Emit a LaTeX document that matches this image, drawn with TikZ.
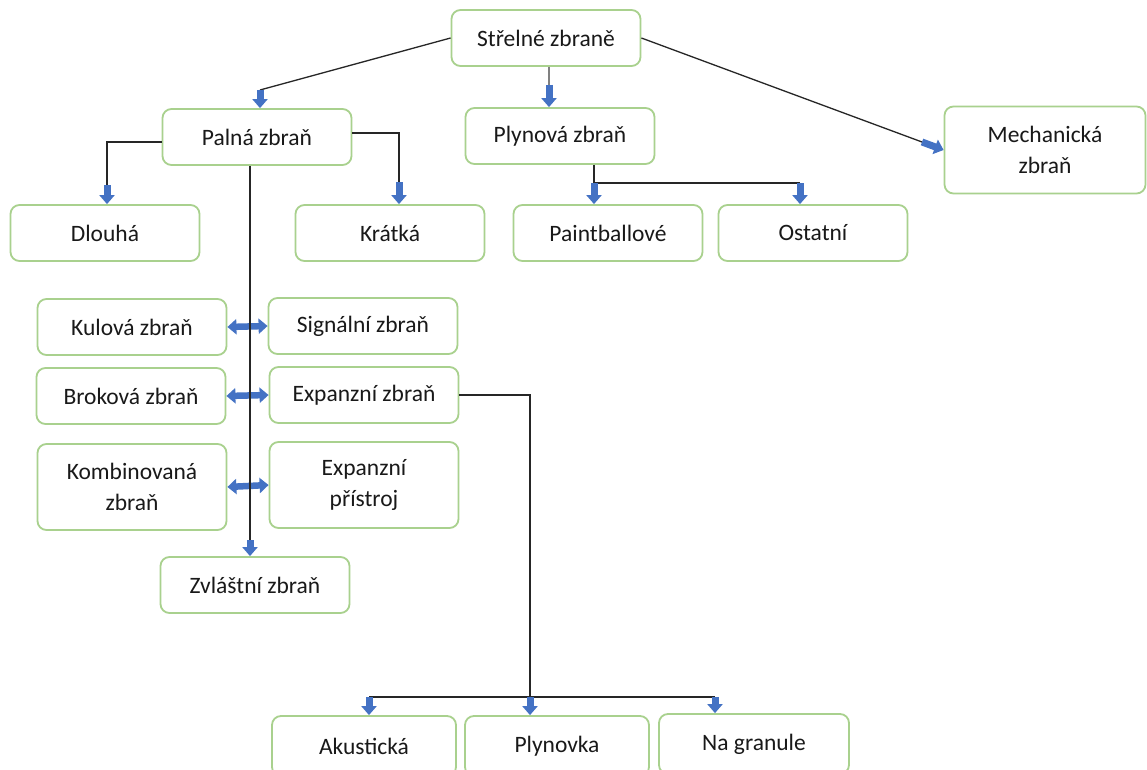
\documentclass[tikz,border=0pt]{standalone}
\usepackage{fontspec}
\setmainfont{Carlito}
\usetikzlibrary{arrows.meta}
\definecolor{boxgreen}{HTML}{A9D18E}
\definecolor{arrowblue}{HTML}{4472C4}
\begin{document}
\begin{tikzpicture}[x=1pt,y=-1pt,
  box/.style={draw=boxgreen, line width=1.8pt, rounded corners=9pt, fill=white,
    minimum width=189pt, minimum height=56pt, align=center,
    font=\fontsize{23.5}{31}\selectfont, text=black!90, inner sep=0pt},
  conn/.style={draw=black!85, line width=1.3pt},
  barrow/.style={draw=arrowblue, line width=7pt, -{Triangle[length=9pt,width=15pt]}},
  dbarrow/.style={draw=arrowblue, line width=6.5pt,
    {Triangle[length=9pt,width=15pt]}-{Triangle[length=9pt,width=15pt]}}]
\useasboundingbox (0,0) rectangle (1147,770);
\fill[white] (0,0) rectangle (1147,770);
\clip (0,0) rectangle (1147,770);

\node[box] (ss) at (546,38) {Střelné zbraně};
\node[box] (palna) at (257,137) {Palná zbraň};
\node[box] (plyn) at (560,136) {Plynová zbraň};
\node[box, minimum width=201pt, minimum height=87pt] (mech) at (1045,150) {Mechanická\\zbraň};
\node[box] (dlouha) at (105,233) {Dlouhá};
\node[box] (kratka) at (390,233) {Krátká};
\node[box] (paint) at (608,233) {Paintballové};
\node[box] (ost) at (813,233) {Ostatní};
\node[box] (kul) at (132,327) {Kulová zbraň};
\node[box] (sig) at (363,326) {Signální zbraň};
\node[box] (brok) at (131,396) {Broková zbraň};
\node[box] (expz) at (364,395) {Expanzní zbraň};
\node[box, minimum height=86pt] (komb) at (132,487) {Kombinovaná\\zbraň};
\node[box, minimum height=86pt] (expp) at (364,485) {Expanzní\\přístroj};
\node[box] (zvl) at (255,585) {Zvláštní zbraň};
\node[box, minimum width=184pt, minimum height=60pt] (aku) at (364,746) {Akustická};
\node[box, minimum width=184pt, minimum height=60pt] (plynovka) at (557,746) {Plynovka};
\node[box, minimum width=190pt, minimum height=60pt] (gran) at (754,744) {Na granule};

% Strelne -> Palna
\coordinate (c1) at (260,90);
\draw[conn] (ss.west) -- (c1);
\draw[barrow] (c1) -- (palna.north -| c1);
% Strelne -> Plynova
\coordinate (c2) at (549,85);
\draw[conn, draw=gray] (ss.south -| c2) -- (c2);
\draw[barrow] (c2) -- (plyn.north -| c2);
% Strelne -> Mechanicka
\coordinate (c3) at (922,142);
\draw[conn] (ss.east) -- (c3);
\draw[barrow] (c3) -- (mech.west);
% Palna -> Dlouha
\coordinate (c4) at (107,185);
\draw[conn] ([yshift=-5pt]palna.west) -| (c4);
\draw[barrow] (c4) -- (dlouha.north -| c4);
% Palna -> Kratka
\coordinate (c5) at (399,182);
\draw[conn] ([yshift=4pt]palna.east) -| (c5);
\draw[barrow] (c5) -- (kratka.north -| c5);
% Plynova -> Paintballove, Ostatni
\coordinate (c6) at (594,183);
\coordinate (c7) at (800,183);
\draw[conn] (plyn.south -| c6) -- (c6) -- (c7);
\draw[barrow] (c6) -- (paint.north -| c6);
\draw[barrow] (c7) -- (ost.north -| c7);
% double arrows
\draw[dbarrow] (kul.east) -- (sig.west);
\draw[dbarrow] (brok.east) -- (expz.west);
\draw[dbarrow] (komb.east) -- (expp.west);
% Palna -> Zvlastni
\coordinate (c8) at (250,540);
\draw[conn] (palna.south -| c8) -- (c8);
\draw[barrow] (c8) -- (zvl.north -| c8);
% Expanzni zbran -> bottom row
\coordinate (c9) at (530,697);
\coordinate (c10) at (369,697);
\coordinate (c11) at (715,697);
\draw[conn] (expz.east) -| (c9);
\draw[conn] (c10) -- (c11);
\draw[barrow] (c10) -- (aku.north -| c10);
\draw[barrow] (c9) -- (plynovka.north -| c9);
\draw[barrow] (c11) -- (gran.north -| c11);
\end{tikzpicture}
\end{document}
